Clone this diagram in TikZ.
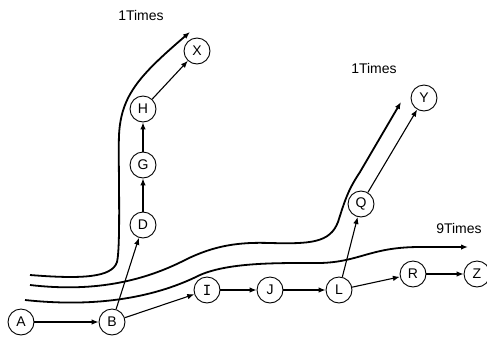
\documentclass[tikz,border=0pt]{standalone}
\usepackage{fontspec}
\setmainfont{Liberation Sans}
\newfontfamily\serifI{DejaVu Sans Mono}
\usetikzlibrary{arrows.meta}
\begin{document}
\begin{tikzpicture}[x=1pt,y=-1pt,
  vtx/.style={draw,circle,minimum size=26pt,inner sep=0pt,line width=0.9pt,font=\fontsize{14}{16}\selectfont},
  edge/.style={line width=1.1pt,-{Latex[length=7pt,width=5.5pt]}},
  flow/.style={line width=1.8pt,-{Latex[length=7pt,width=5.5pt]}},
  cnt/.style={font=\fontsize{14}{16}\selectfont}]
\useasboundingbox (0,0) rectangle (487,338);
% vertices
\node[vtx] (A) at (21,322) {A};
\node[vtx] (B) at (112,322) {B};
\node[vtx] (D) at (143,225) {D};
\node[vtx] (G) at (143,165) {G};
\node[vtx] (H) at (143,109) {H};
\node[vtx] (X) at (197,51) {X};
\node[vtx] (I) at (207,290) {\serifI I};
\node[vtx] (J) at (270,290) {J};
\node[vtx] (L) at (339,290) {L};
\node[vtx] (Q) at (361,204) {Q};
\node[vtx] (Y) at (424,98) {Y};
\node[vtx] (R) at (413,274) {R};
\node[vtx] (Z) at (477,274) {Z};
% edges
\draw[edge] (A) -- (B);
\draw[edge] (B) -- (D);
\draw[edge] (B) -- (I);
\draw[edge] (D) -- (G);
\draw[edge] (G) -- (H);
\draw[edge] (H) -- (X);
\draw[edge] (I) -- (J);
\draw[edge] (J) -- (L);
\draw[edge] (L) -- (Q);
\draw[edge] (L) -- (R);
\draw[edge] (R) -- (Z);
\draw[edge] (Q) -- (Y);
% traffic flows
\coordinate (fx0) at (30,275);
\coordinate (fx1) at (190,32);
\draw[flow] (fx0) .. controls (80,279) and (112,278) .. (117,262)
  .. controls (121,245) and (118,160) .. (119,135)
  .. controls (121,95) and (140,75) .. (fx1);
\coordinate (fy0) at (30,285);
\coordinate (fy1) at (401,102);
\draw[flow] (fy0) .. controls (90,292) and (140,283) .. (185,260)
  .. controls (215,245) and (240,242) .. (270,243)
  .. controls (310,244) and (330,243) .. (338,222)
  .. controls (345,200) and (348,190) .. (360,172) -- (fy1);
\coordinate (fz0) at (25,300);
\coordinate (fz1) at (468,247);
\draw[flow] (fz0) .. controls (90,307) and (150,300) .. (200,275)
  .. controls (230,262) and (280,263) .. (320,263)
  .. controls (360,262) and (370,247) .. (420,247) -- (fz1);
% counts
\node[cnt] (c1) at (141,15) {1Times};
\node[cnt] (c2) at (374,68) {1Times};
\node[cnt] (c3) at (459,228) {9Times};
\end{tikzpicture}
\end{document}
